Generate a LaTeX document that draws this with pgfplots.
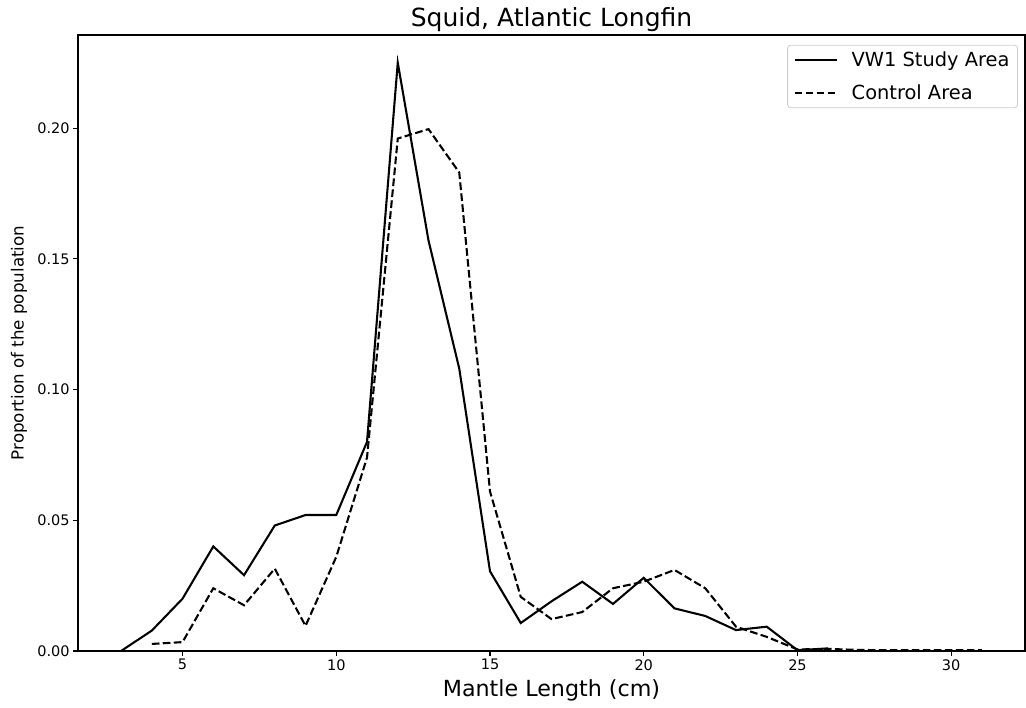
\documentclass[border=0pt]{standalone}
\usepackage{fontspec}
\setmainfont{DejaVu Sans}
\usepackage{pgfplots}
\pgfplotsset{compat=1.18}
\definecolor{legframe}{HTML}{CCCCCC}
\begin{document}
\begin{tikzpicture}
\begin{axis}[
  scale only axis,
  width=947bp, height=616bp,
  xmin=1.6, xmax=32.4, ymin=0, ymax=0.2356,
  xtick={5,10,15,20,25,30},
  ytick={0,0.05,0.1,0.15,0.2},
  yticklabel style={/pgf/number format/.cd, fixed, fixed zerofill, precision=2},
  /pgf/number format/assume math mode=true,
  tick label style={font=\fontsize{14.5bp}{17bp}\selectfont},
  tick align=outside, tick pos=left,
  major tick length=4.9bp,
  every tick/.style={black, line width=1.1bp},
  axis line style={line width=1.1bp},
  title={Squid, Atlantic Longfin},
  title style={font=\fontsize{25bp}{30bp}\selectfont, at={(axis description cs:0.5,1.0154)}, anchor=center},
  xlabel={Mantle Length (cm)},
  xlabel style={font=\fontsize{22.2bp}{26bp}\selectfont, at={(axis description cs:0.5,-0.0633)}, anchor=center},
  ylabel={Proportion of the population},
  ylabel style={font=\fontsize{16.7bp}{20bp}\selectfont, at={(axis description cs:-0.0623,0.5)}, anchor=center},
  legend style={at={(axis description cs:0.9925,0.984)}, anchor=north east,
    draw=legframe, rounded corners=3bp, line width=0.8bp,
    font=\fontsize{19.4bp}{22bp}\selectfont, inner xsep=6bp, inner ysep=5bp,
    row sep=12bp},
  legend cell align=left,
  legend image code/.code={\draw[#1] (0bp,0bp) -- (42bp,0bp); \path (54bp,0bp);},
]
\addplot[black, line width=2.08bp] coordinates {
(3,0) (4,0.0078) (5,0.020) (6,0.040) (7,0.029) (8,0.048) (9,0.052) (10,0.052)
(11,0.080) (12,0.225) (13,0.157) (14,0.108) (15,0.0305) (16,0.0107) (17,0.019)
(18,0.0265) (19,0.018) (20,0.028) (21,0.0163) (22,0.0134) (23,0.008) (24,0.0093)
(25,0.0003) (26,0.0010)
};
\addlegendentry{VW1 Study Area}
\addplot[black, line width=2.08bp, dash pattern=on 7.7bp off 3.3bp] coordinates {
(4,0.0027) (5,0.0034) (6,0.024) (7,0.0175) (8,0.0315) (9,0.0096) (10,0.036)
(11,0.074) (12,0.196) (13,0.1996) (14,0.183) (15,0.061) (16,0.0207) (17,0.0122)
(18,0.0149) (19,0.024) (20,0.0265) (21,0.031) (22,0.024) (23,0.0093) (24,0.0054)
(25,0.0006) (26,0.0008) (27,0.0004) (28,0.0003) (29,0.0003) (30,0.0003) (31,0.0003)
};
\addlegendentry{Control Area}
\end{axis}
\pgfresetboundingbox
\useasboundingbox ([shift={(-78bp,-57bp)}]current axis.south west) rectangle ([shift={(1bp,35bp)}]current axis.north east);
\end{tikzpicture}
\end{document}
